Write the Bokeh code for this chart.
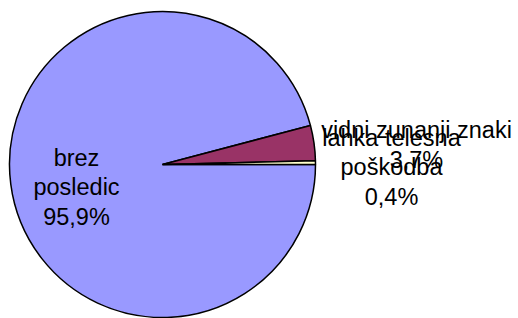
from math import pi
from bokeh.plotting import figure
from bokeh.models import Range1d, ColumnDataSource
from bokeh.core.properties import value
from bokeh.embed import file_html
from bokeh.resources import INLINE

# data
categories = ["brez posledic", "vidni zunanji znaki", "lahka telesna poškodba"]
percents = [95.9, 3.7, 0.4]
colors = ["#9999FF", "#993366", "#FFFFCC"]
label_lines = [["brez", "posledic"], ["vidni zunanji znaki"], ["lahka telesna", "poškodba"]]

W, H = 518, 318
p = figure(width=W, height=H, output_backend="svg", toolbar_location=None,
           x_range=Range1d(0, W), y_range=Range1d(0, H), min_border=0)
p.axis.visible = False
p.grid.visible = False
p.outline_line_color = None
p.background_fill_color = "white"
p.border_fill_color = "white"

cx, cy, r = 162, 154, 153
total = sum(percents)
starts, ends = [], []
cum = 0.0
for v in percents:
    a0 = cum / total * 2 * pi
    cum += v
    a1 = cum / total * 2 * pi
    # clockwise from 3 o'clock
    starts.append(-a1)
    ends.append(-a0)

src = ColumnDataSource(dict(x=[cx] * 3, y=[cy] * 3, start=starts, end=ends, color=colors))
p.wedge(x="x", y="y", radius=r, radius_units="screen", start_angle="start", end_angle="end",
        fill_color="color", line_color="black", line_width=1.5, source=src)

# labels
label_pos = [(76, 131), (416, 173.5), (391, 151)]
texts = []
for lines, v in zip(label_lines, percents):
    texts.append("\n".join(lines + [f"{v:.1f}".replace(".", ",") + "%"]))
lsrc = ColumnDataSource(dict(x=[q[0] for q in label_pos], y=[q[1] for q in label_pos], t=texts))
p.text(x="x", y="y", text="t", source=lsrc, text_align="center", text_baseline="middle",
       text_font=value("Liberation Sans"), text_font_size="23.5px", text_color="black",
       text_line_height=1.15)

open("out.html", "w").write(file_html(p, INLINE))
